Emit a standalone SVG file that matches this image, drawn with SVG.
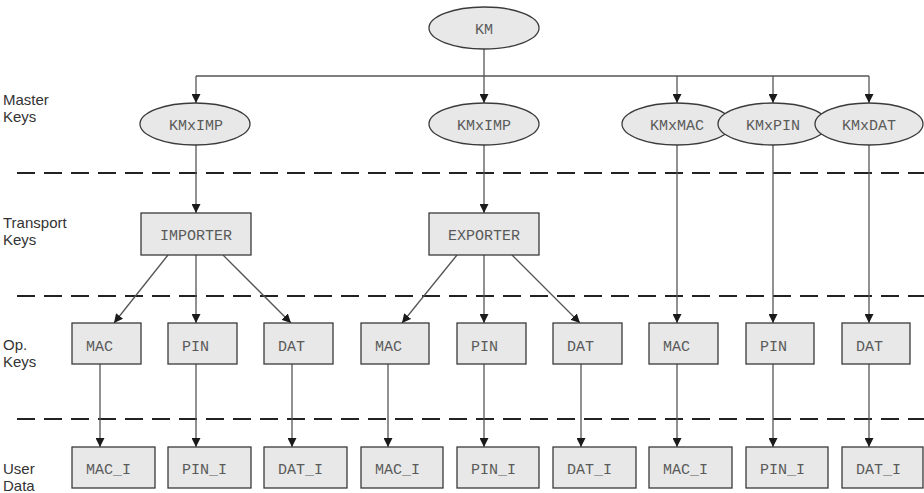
<svg xmlns="http://www.w3.org/2000/svg" width="924" height="493" viewBox="0 0 924 493">
<defs>
<marker id="ah" viewBox="0 0 10 10" refX="10" refY="5" markerWidth="9" markerHeight="9" markerUnits="userSpaceOnUse" orient="auto">
<path d="M0,0 L10,5 L0,10 z" fill="#1a1a1a"/>
</marker>
</defs>
<style>
.bg{fill:#ffffff}
.node ellipse,.node rect{fill:#e8e8e8;stroke:#3a3a3a;stroke-width:1.3}
.node text{font-family:"Liberation Mono","Courier New",monospace;font-size:15px;fill:#5a5a5a}
.lbl{font-family:"Liberation Sans",Arial,sans-serif;font-size:15px;fill:#333}
.sep{stroke:#222;stroke-width:2;stroke-dasharray:18 9;fill:none}
.conn line,.conn path{stroke:#555;stroke-width:1.3;fill:none}
.conn .a{marker-end:url(#ah)}
</style>
<rect class="bg" x="0" y="0" width="924" height="493"/>

<g id="labels">
<text class="lbl" x="3" y="105">Master</text>
<text class="lbl" x="3" y="122">Keys</text>
<text class="lbl" x="3" y="228">Transport</text>
<text class="lbl" x="3" y="245">Keys</text>
<text class="lbl" x="3" y="350">Op.</text>
<text class="lbl" x="3" y="367">Keys</text>
<text class="lbl" x="3" y="474">User</text>
<text class="lbl" x="3" y="491">Data</text>
</g>

<g id="separators">
<line class="sep" x1="17" y1="173" x2="924" y2="173"/>
<line class="sep" x1="17" y1="296" x2="924" y2="296"/>
<line class="sep" x1="17" y1="419" x2="924" y2="419"/>
</g>

<g class="conn" id="connectors">
<line class="a" x1="484" y1="49" x2="484" y2="103"/>
<path d="M196,76 H869"/>
<line class="a" x1="196" y1="76" x2="196" y2="103"/>
<line class="a" x1="677" y1="76" x2="677" y2="103"/>
<line class="a" x1="773" y1="76" x2="773" y2="103"/>
<line class="a" x1="869" y1="76" x2="869" y2="103"/>
<line class="a" x1="196" y1="145" x2="196" y2="213"/>
<line class="a" x1="484" y1="145" x2="484" y2="213"/>
<line class="a" x1="677" y1="145" x2="677" y2="323"/>
<line class="a" x1="773" y1="145" x2="773" y2="323"/>
<line class="a" x1="869" y1="145" x2="869" y2="323"/>
<line class="a" x1="168" y1="255" x2="114" y2="323"/>
<line class="a" x1="196" y1="255" x2="196" y2="323"/>
<line class="a" x1="223" y1="255" x2="291" y2="323"/>
<line class="a" x1="457" y1="255" x2="402" y2="323"/>
<line class="a" x1="484" y1="255" x2="484" y2="323"/>
<line class="a" x1="512" y1="255" x2="580" y2="323"/>
<line class="a" x1="100" y1="364" x2="100" y2="447"/>
<line class="a" x1="196" y1="364" x2="196" y2="447"/>
<line class="a" x1="292" y1="364" x2="292" y2="447"/>
<line class="a" x1="388" y1="364" x2="388" y2="447"/>
<line class="a" x1="484" y1="364" x2="484" y2="447"/>
<line class="a" x1="581" y1="364" x2="581" y2="447"/>
<line class="a" x1="677" y1="364" x2="677" y2="447"/>
<line class="a" x1="773" y1="364" x2="773" y2="447"/>
<line class="a" x1="869" y1="364" x2="869" y2="447"/>
</g>

<g class="node" id="km"><ellipse cx="484" cy="28" rx="55" ry="21"/><text x="484" y="34" text-anchor="middle">KM</text></g>
<g class="node" id="kmximp1"><ellipse cx="195" cy="124" rx="55" ry="21"/><text x="196" y="130" text-anchor="middle">KMxIMP</text></g>
<g class="node" id="kmximp2"><ellipse cx="484" cy="124" rx="55" ry="21"/><text x="484" y="130" text-anchor="middle">KMxIMP</text></g>
<g class="node" id="kmxmac"><ellipse cx="677" cy="124" rx="55" ry="21"/><text x="677" y="130" text-anchor="middle">KMxMAC</text></g>
<g class="node" id="kmxpin"><ellipse cx="773" cy="124" rx="55" ry="21"/><text x="773" y="130" text-anchor="middle">KMxPIN</text></g>
<g class="node" id="kmxdat"><ellipse cx="869" cy="124" rx="54" ry="21"/><text x="869" y="130" text-anchor="middle">KMxDAT</text></g>

<g class="node" id="importer"><rect x="141" y="213" width="110" height="42"/><text x="196" y="240" text-anchor="middle">IMPORTER</text></g>
<g class="node" id="exporter"><rect x="429" y="213" width="110" height="42"/><text x="484" y="240" text-anchor="middle">EXPORTER</text></g>

<g class="node" id="mac1"><rect x="72" y="323" width="69" height="41"/><text x="86" y="351">MAC</text></g>
<g class="node" id="pin1"><rect x="168" y="323" width="69" height="41"/><text x="182" y="351">PIN</text></g>
<g class="node" id="dat1"><rect x="264" y="323" width="69" height="41"/><text x="278" y="351">DAT</text></g>
<g class="node" id="mac2"><rect x="361" y="323" width="68" height="41"/><text x="375" y="351">MAC</text></g>
<g class="node" id="pin2"><rect x="457" y="323" width="69" height="41"/><text x="471" y="351">PIN</text></g>
<g class="node" id="dat2"><rect x="553" y="323" width="69" height="41"/><text x="567" y="351">DAT</text></g>
<g class="node" id="mac3"><rect x="649" y="323" width="69" height="41"/><text x="663" y="351">MAC</text></g>
<g class="node" id="pin3"><rect x="746" y="323" width="68" height="41"/><text x="760" y="351">PIN</text></g>
<g class="node" id="dat3"><rect x="842" y="323" width="68" height="41"/><text x="856" y="351">DAT</text></g>

<g class="node" id="maci1"><rect x="72" y="447" width="83" height="41"/><text x="86" y="474">MAC_I</text></g>
<g class="node" id="pini1"><rect x="168" y="447" width="83" height="41"/><text x="182" y="474">PIN_I</text></g>
<g class="node" id="dati1"><rect x="264" y="447" width="83" height="41"/><text x="278" y="474">DAT_I</text></g>
<g class="node" id="maci2"><rect x="361" y="447" width="82" height="41"/><text x="375" y="474">MAC_I</text></g>
<g class="node" id="pini2"><rect x="457" y="447" width="82" height="41"/><text x="471" y="474">PIN_I</text></g>
<g class="node" id="dati2"><rect x="553" y="447" width="83" height="41"/><text x="567" y="474">DAT_I</text></g>
<g class="node" id="maci3"><rect x="649" y="447" width="83" height="41"/><text x="663" y="474">MAC_I</text></g>
<g class="node" id="pini3"><rect x="746" y="447" width="82" height="41"/><text x="760" y="474">PIN_I</text></g>
<g class="node" id="dati3"><rect x="842" y="447" width="81" height="41"/><text x="856" y="474">DAT_I</text></g>
</svg>
